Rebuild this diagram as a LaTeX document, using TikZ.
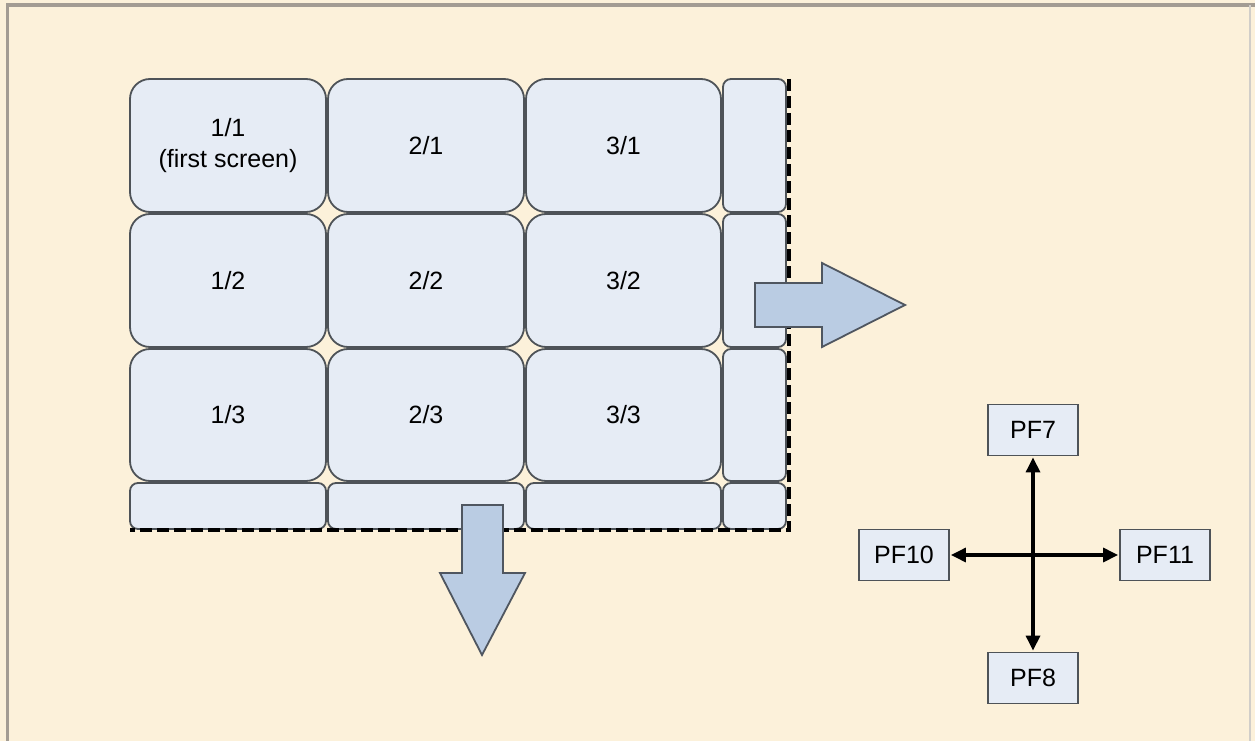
\documentclass[tikz,border=0pt]{standalone}
\usepackage{fontspec}
\setmainfont{Liberation Sans}
\usetikzlibrary{arrows.meta}
\definecolor{bgcream}{HTML}{FCF1DA}
\definecolor{framegray}{HTML}{A39C93}
\definecolor{cellfill}{HTML}{E6ECF5}
\definecolor{celldraw}{HTML}{4E5358}
\definecolor{arrowfill}{HTML}{BACCE3}
\definecolor{arrowdraw}{HTML}{4F5660}
\tikzset{
  cellbox/.style={draw=celldraw, fill=cellfill, line width=1.8pt, rounded corners=20pt,
    inner sep=0pt, align=center, font=\fontsize{25}{31}\selectfont},
  smallcell/.style={cellbox, rounded corners=8pt},
  blockarrow/.style={draw=arrowdraw, fill=arrowfill, line width=1.8pt, line join=miter},
  pfbox/.style={draw=celldraw, fill=cellfill, line width=1.8pt, inner sep=0pt,
    minimum width=90pt, minimum height=51pt, font=\fontsize{25}{30}\selectfont},
  pfarrow/.style={line width=3.2pt, {Triangle[length=15pt,width=14pt]}-{Triangle[length=15pt,width=14pt]}, shorten <=1pt, shorten >=1pt},
  dashedframe/.style={line width=3.6pt, dash pattern=on 12pt off 5pt}
}
\begin{document}
\begin{tikzpicture}[x=1pt,y=-1pt]
\useasboundingbox (0,0) rectangle (1255,741);
% background and frame
\fill[bgcream] (0,0) rectangle (1255,741);
\draw[framegray, line width=3.5pt] (7.5,741) -- (7.5,5) -- (1255,5);
\draw[framegray!50, line width=1.5pt] (1250,5) -- (1250,741);
% grid cells
\node[cellbox, minimum width=196pt, minimum height=133pt] (c11) at (228,145.5) {1/1\\(first screen)};
\node[cellbox, minimum width=196pt, minimum height=133pt] (c21) at (426,145.5) {2/1};
\node[cellbox, minimum width=195pt, minimum height=133pt] (c31) at (623.5,145.5) {3/1};
\node[smallcell, minimum width=63pt, minimum height=133pt] (c41) at (754.5,145.5) {};
\node[cellbox, minimum width=196pt, minimum height=133pt] (c12) at (228,280.5) {1/2};
\node[cellbox, minimum width=196pt, minimum height=133pt] (c22) at (426,280.5) {2/2};
\node[cellbox, minimum width=195pt, minimum height=133pt] (c32) at (623.5,280.5) {3/2};
\node[smallcell, minimum width=63pt, minimum height=133pt] (c42) at (754.5,280.5) {};
\node[cellbox, minimum width=196pt, minimum height=132pt] (c13) at (228,415) {1/3};
\node[cellbox, minimum width=196pt, minimum height=132pt] (c23) at (426,415) {2/3};
\node[cellbox, minimum width=195pt, minimum height=132pt] (c33) at (623.5,415) {3/3};
\node[smallcell, minimum width=63pt, minimum height=132pt] (c43) at (754.5,415) {};
\node[smallcell, minimum width=196pt, minimum height=46pt] (c14) at (228,506) {};
\node[smallcell, minimum width=196pt, minimum height=46pt] (c24) at (426,506) {};
\node[smallcell, minimum width=195pt, minimum height=46pt] (c34) at (623.5,506) {};
\node[smallcell, minimum width=63pt, minimum height=46pt] (c44) at (754.5,506) {};
% dashed boundary
\coordinate (dtop) at (789,79);
\coordinate (dcorner) at (789,530);
\coordinate (dleft) at (130,530);
\draw[dashedframe] (dtop) -- (dcorner) -- (dleft);
% block arrows
\draw[blockarrow] (755,283) -- (822,283) -- (822,263) -- (905,305) -- (822,347) -- (822,327) -- (755,327) -- cycle;
\draw[blockarrow] (462,505) -- (503,505) -- (503,573) -- (525,573) -- (482,655) -- (440,573) -- (462,573) -- cycle;
% PF keys
\node[pfbox] (pf7) at (1033,430) {PF7};
\node[pfbox] (pf8) at (1033,678) {PF8};
\node[pfbox] (pf10) at (904,555) {PF10};
\node[pfbox] (pf11) at (1165,555) {PF11};
\draw[pfarrow] (pf7) -- (pf8);
\draw[pfarrow] (pf10) -- (pf11);
\end{tikzpicture}
\end{document}
